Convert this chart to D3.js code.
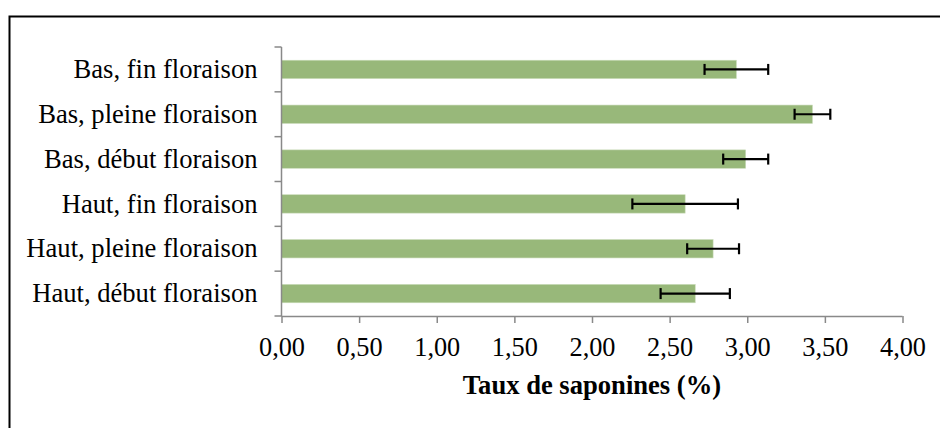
<!DOCTYPE html>
<html>
<head>
<meta charset="utf-8">
<script src="https://cdn.jsdelivr.net/npm/d3@7"></script>
<style>
  html, body { margin: 0; padding: 0; background: #fff; }
  svg { display: block; }
  text { font-family: "Liberation Serif", "Times New Roman", serif; fill: #000; }
</style>
</head>
<body>
<svg id="chart" width="940" height="428"></svg>
<script>
const categories = ["Bas, fin floraison", "Bas, pleine floraison", "Bas, début floraison",
                    "Haut, fin floraison", "Haut, pleine floraison", "Haut, début floraison"];
const values = [2.93, 3.42, 2.99, 2.60, 2.78, 2.665];
const errors = [0.205, 0.115, 0.145, 0.34, 0.167, 0.223];
const xTicks = [0, 0.5, 1, 1.5, 2, 2.5, 3, 3.5, 4];
const xTickLabels = ["0,00", "0,50", "1,00", "1,50", "2,00", "2,50", "3,00", "3,50", "4,00"];
const xTitle = "Taux de saponines (%)";

const svg = d3.select("#chart");
const plotLeft = 281.5, plotRight = 902.5, plotTop = 47, plotBottom = 316;
const fontFam = '"Liberation Serif", "Times New Roman", serif';

const x = d3.scaleLinear().domain([0, 4]).range([plotLeft, plotRight]);
const y = d3.scaleBand().domain(categories).range([plotTop, plotBottom])
  .paddingInner(0.59).paddingOuter(0.295);
const yEdge = d3.scaleLinear().domain([0, categories.length]).range([plotTop, plotBottom]);

// outer border (extends beyond visible area)
svg.append("rect").attr("x", 9.5).attr("y", 16.5).attr("width", 1000).attr("height", 500)
  .attr("fill", "none").attr("stroke", "#000").attr("stroke-width", 2);

const rows = categories.map((c, i) => ({ c, v: values[i], e: errors[i] }));

// bars
svg.append("g").selectAll("rect").data(rows).join("rect")
  .attr("x", x(0))
  .attr("y", d => y(d.c))
  .attr("width", d => x(d.v) - x(0))
  .attr("height", y.bandwidth())
  .attr("fill", "#98b87a")
  .attr("stroke", "#c9dbb9").attr("stroke-width", 0.6);

// error bars
const eg = svg.append("g").attr("stroke", "#000").attr("stroke-width", 2.2);
rows.forEach(d => {
  const cy = y(d.c) + y.bandwidth() / 2;
  eg.append("line").attr("x1", x(d.v - d.e)).attr("x2", x(d.v + d.e)).attr("y1", cy).attr("y2", cy);
  eg.append("line").attr("x1", x(d.v - d.e)).attr("x2", x(d.v - d.e)).attr("y1", cy - 5.5).attr("y2", cy + 5.5);
  eg.append("line").attr("x1", x(d.v + d.e)).attr("x2", x(d.v + d.e)).attr("y1", cy - 5.5).attr("y2", cy + 5.5);
});

// x axis
const xAxis = svg.append("g").attr("transform", `translate(0,${plotBottom})`)
  .call(d3.axisBottom(x).tickValues(xTicks).tickSize(7)
    .tickFormat((d, i) => xTickLabels[i]));
xAxis.select(".domain").attr("stroke", "#898989").attr("stroke-width", 1.5)
  .attr("d", `M${plotLeft},0.5H${plotRight}`);
xAxis.selectAll(".tick line").attr("stroke", "#898989").attr("stroke-width", 1.5);
xAxis.selectAll(".tick text").attr("y", 39.7).attr("dy", 0)
  .style("font-size", "26.3px").style("font-family", fontFam)
  .attr("fill", "#000");

// y axis (boundary ticks)
const ya = svg.append("g").attr("stroke", "#898989").attr("stroke-width", 1.5);
ya.append("line").attr("x1", plotLeft).attr("x2", plotLeft).attr("y1", plotTop).attr("y2", plotBottom);
d3.range(categories.length + 1).forEach(i => {
  ya.append("line").attr("x1", plotLeft - 7).attr("x2", plotLeft)
    .attr("y1", yEdge(i)).attr("y2", yEdge(i));
});

// category labels
svg.append("g").selectAll("text").data(categories).join("text")
  .attr("x", 257.5)
  .attr("y", d => y(d) + y.bandwidth() / 2 + 8.7)
  .attr("text-anchor", "end")
  .style("font-size", "26.6px")
  .style("font-family", fontFam)
  .text(d => d);

// x title
svg.append("text").attr("x", (plotLeft + plotRight) / 2).attr("y", 394.3)
  .attr("text-anchor", "middle").style("font-size", "26.6px").style("font-weight", "bold")
  .style("font-family", fontFam)
  .text(xTitle);
</script>
</body>
</html>
